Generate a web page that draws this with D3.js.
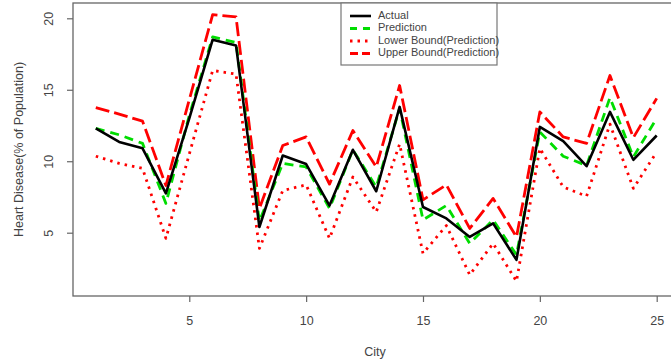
<!DOCTYPE html>
<html>
<head>
<meta charset="utf-8">
<script src="https://cdn.jsdelivr.net/npm/d3@7"></script>
<style>
  body { margin: 0; background: #fff; }
  text { font-family: "Liberation Sans", Arial, sans-serif; }
</style>
</head>
<body>
<div id="chart"></div>
<script>
// values
const cities = d3.range(1, 26);
const actual = [12.3, 11.35, 10.9, 7.75, 13.0, 18.5, 18.1, 5.4, 10.4, 9.8, 6.9, 10.8, 7.9, 13.8, 6.8, 6.0, 4.7, 5.65, 3.1, 12.4, 11.4, 9.65, 13.45, 10.1, 11.8];
const prediction = [12.3, 11.85, 11.25, 7.05, 13.2, 18.7, 18.3, 5.8, 9.85, 9.6, 6.7, 10.8, 8.2, 13.7, 5.9, 6.9, 4.25, 5.9, 3.45, 12.05, 10.35, 9.7, 14.45, 10.3, 13.0];
const lower = [10.35, 9.85, 9.5, 4.6, 10.5, 16.35, 16.1, 3.9, 7.95, 8.35, 4.6, 8.9, 6.45, 11.2, 3.55, 5.5, 2.05, 4.25, 1.6, 10.9, 8.2, 7.55, 12.6, 8.1, 10.65];
const upper = [13.75, 13.3, 12.8, 8.3, 14.3, 20.25, 20.1, 6.7, 11.1, 11.7, 8.4, 12.15, 9.6, 15.3, 7.3, 8.35, 5.3, 7.4, 4.7, 13.45, 11.7, 11.25, 16.0, 11.65, 14.4];
const xTicks = [5, 10, 15, 20, 25];
const yTicks = [5, 10, 15, 20];

const series = [
  { name: "Actual", values: actual, color: "#000000", dash: null, width: 2.6 },
  { name: "Prediction", values: prediction, color: "#00dd00", dash: "9,6", width: 2.8 },
  { name: "Lower Bound(Prediction)", values: lower, color: "#ff0000", dash: "2.5,5", width: 2.8 },
  { name: "Upper Bound(Prediction)", values: upper, color: "#ff0000", dash: "14,5", width: 2.8 },
];

const W = 671, H = 362;
const box = { left: 73, top: 3, bottom: 296, right: 672 };

const svg = d3.select("#chart").append("svg")
  .attr("width", W)
  .attr("height", H);

const x = d3.scaleLinear().domain([1, 25]).range([95.8, 656.7]);
const y = d3.scaleLinear().domain([5, 20]).range([232.7, 18.3]);

// plot frame
svg.append("rect")
  .attr("x", box.left)
  .attr("y", box.top)
  .attr("width", box.right - box.left)
  .attr("height", box.bottom - box.top)
  .attr("fill", "none")
  .attr("stroke", "#666")
  .attr("stroke-width", 1.3);

// x axis
const xAxis = svg.append("g")
  .attr("transform", `translate(0, ${box.bottom})`)
  .call(d3.axisBottom(x).tickValues(xTicks).tickSize(6).tickPadding(14).tickSizeOuter(0));
xAxis.select(".domain").remove();
xAxis.selectAll("line").attr("stroke", "#666").attr("stroke-width", 1.2);
xAxis.selectAll("text").attr("font-size", 12.5).attr("fill", "#444");

// y axis, labels turned like R does by default
const yAxis = svg.append("g")
  .attr("transform", `translate(${box.left}, 0)`)
  .call(d3.axisLeft(y).tickValues(yTicks).tickSize(6).tickSizeOuter(0));
yAxis.select(".domain").remove();
yAxis.selectAll("line").attr("stroke", "#666").attr("stroke-width", 1.2);
yAxis.selectAll("text")
  .attr("x", null).attr("dy", null)
  .attr("transform", "translate(-23, 0) rotate(-90)")
  .attr("text-anchor", "middle")
  .attr("dominant-baseline", "middle")
  .attr("font-size", 12.5)
  .attr("fill", "#444");

// titles
svg.append("text")
  .attr("x", 375)
  .attr("y", 356)
  .attr("text-anchor", "middle")
  .attr("font-size", 12.5)
  .attr("fill", "#444")
  .text("City");

svg.append("text")
  .attr("transform", `translate(20, ${(box.top + box.bottom) / 2}) rotate(-90)`)
  .attr("text-anchor", "middle")
  .attr("dominant-baseline", "middle")
  .attr("font-size", 12.5)
  .attr("fill", "#444")
  .text("Heart Disease(% of Population)");

// lines
const line = d3.line()
  .x((d, i) => x(cities[i]))
  .y((d) => y(d));

const plot = svg.append("g");
plot.selectAll("path")
  .data(series.slice().reverse())
  .join("path")
  .attr("d", (s) => line(s.values))
  .attr("fill", "none")
  .attr("stroke", (s) => s.color)
  .attr("stroke-width", (s) => s.width)
  .attr("stroke-dasharray", (s) => s.dash)
  .attr("stroke-linejoin", "round");

// legend
const legend = svg.append("g").attr("transform", "translate(341, 3)");
legend.append("rect")
  .attr("width", 156)
  .attr("height", 62)
  .attr("fill", "#fff")
  .attr("stroke", "#777")
  .attr("stroke-width", 1.2);

const rows = legend.selectAll("g.row")
  .data(series)
  .join("g")
  .attr("class", "row")
  .attr("transform", (d, i) => `translate(0, ${13 + i * 12.5})`);

rows.append("line")
  .attr("x1", 9)
  .attr("x2", 30)
  .attr("stroke", (s) => s.color)
  .attr("stroke-width", (s) => s.width)
  .attr("stroke-dasharray", (s) => s.name === "Prediction" ? "7,6" : s.name.startsWith("Upper") ? "8,4" : s.dash);

rows.append("text")
  .attr("x", 37)
  .attr("dominant-baseline", "middle")
  .attr("font-size", 11)
  .attr("fill", "#444")
  .text((s) => s.name);
</script>
</body>
</html>
